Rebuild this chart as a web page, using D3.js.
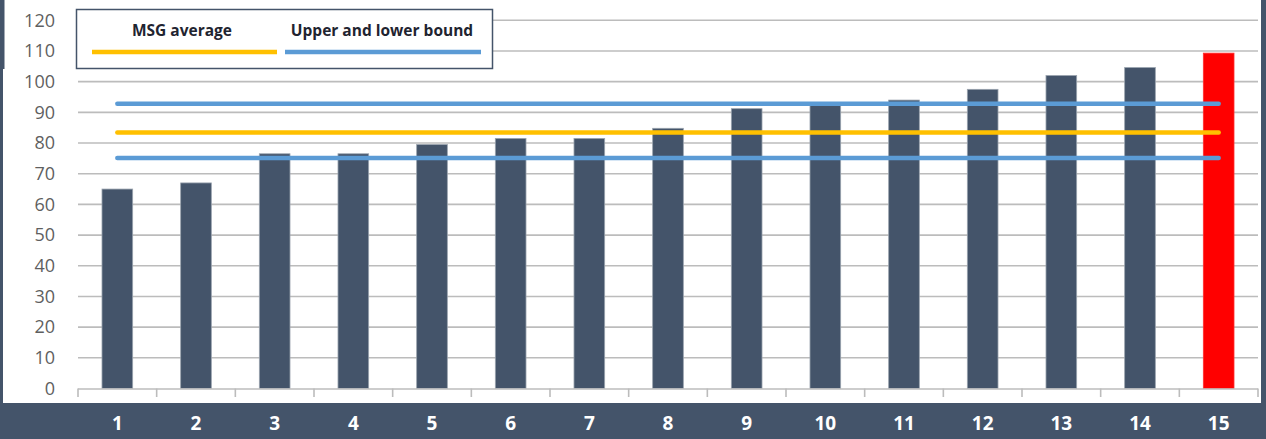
<!DOCTYPE html>
<html>
<head>
<meta charset="utf-8">
<script src="https://cdn.jsdelivr.net/npm/d3@7"></script>
<style>
  html, body { margin: 0; padding: 0; background: #fff; }
  svg { display: block; }
</style>
</head>
<body>
<div id="chart"></div>
<script>
// chart data
const categories = ["1","2","3","4","5","6","7","8","9","10","11","12","13","14","15"]
const values = [65, 67, 76.5, 76.5, 79.5, 81.5, 81.5, 84.8, 91.2, 92.5, 94, 97.5, 102, 104.6, 109.3]
const highlighted = ["15"]
const msgAverage = 83.4
const bounds = [92.8, 75.1]
const yTicks = [0, 10, 20, 30, 40, 50, 60, 70, 80, 90, 100, 110, 120]
const legendLabels = ["MSG average", "Upper and lower bound"]

const w = 1266, h = 439
const frame = "#44546a"
const plot = {left: 78, right: 1258, top: 20.3, bottom: 388.5}

const svg = d3.select('#chart').append('svg')
	.attr('width', w)
	.attr('height', h)

let x = d3.scaleBand()
	.domain(categories)
	.range([plot.left, plot.right])
	.paddingInner(0.61)
	.paddingOuter(0.305)

let y = d3.scaleLinear()
	.domain([0, 120])
	.range([plot.bottom, plot.top])

const step = x.step()
const center = c => x(c) + x.bandwidth() / 2

//gridlines
svg.append('g').selectAll('line')
	.data(yTicks.filter(t => t > 0))
	.join('line')
	.attr('x1', plot.left).attr('x2', plot.right)
	.attr('y1', d => y(d)).attr('y2', d => y(d))
	.attr('stroke', '#bcbcbc')
	.attr('stroke-width', 1.6)

//y labels
let yAxis = svg.append('g')
	.attr('transform', `translate(${plot.left - 23},0)`)
	.call(d3.axisLeft(y).tickValues(yTicks).tickSize(0).tickPadding(0))
yAxis.select('.domain').remove()
yAxis.selectAll('text')
	.attr('font-family', "'Open Sans', 'Liberation Sans', sans-serif")
	.attr('font-size', 18)
	.attr('fill', '#5f5f5f')

//bars
svg.append('g').selectAll('rect')
	.data(categories.map((c, i) => ({cat: c, val: values[i]})))
	.join('rect')
	.attr('x', d => x(d.cat))
	.attr('width', x.bandwidth())
	.attr('y', d => y(d.val))
	.attr('height', d => y(0) - y(d.val))
	.attr('fill', d => highlighted.includes(d.cat) ? '#ff0000' : frame)
	.attr('stroke', d => highlighted.includes(d.cat) ? '#ff3030' : '#9aa3ae')
	.attr('stroke-width', 0.8)

//x axis line + ticks
svg.append('line')
	.attr('x1', plot.left).attr('x2', plot.right)
	.attr('y1', y(0) + 0.5).attr('y2', y(0) + 0.5)
	.attr('stroke', '#bcbcbc').attr('stroke-width', 1.6)
let tickXs = categories.map(c => center(c) - step / 2).concat([plot.right])
svg.append('g').selectAll('line')
	.data(tickXs)
	.join('line')
	.attr('x1', d => d).attr('x2', d => d)
	.attr('y1', y(0)).attr('y2', y(0) + 8.5)
	.attr('stroke', '#bcbcbc').attr('stroke-width', 1.6)

//average + bound lines
const first = categories[0], last = categories[categories.length - 1]
const refLines = [
	{v: bounds[0], color: '#5b9bd5'},
	{v: msgAverage, color: '#ffc000'},
	{v: bounds[1], color: '#5b9bd5'}
]
svg.append('g').selectAll('line')
	.data(refLines)
	.join('line')
	.attr('x1', center(first)).attr('x2', center(last))
	.attr('y1', d => y(d.v)).attr('y2', d => y(d.v))
	.attr('stroke', d => d.color)
	.attr('stroke-width', 4.5)
	.attr('stroke-linecap', 'round')

//frame
svg.append('rect').attr('x', 0).attr('y', 403).attr('width', w).attr('height', h - 403).attr('fill', frame)
svg.append('rect').attr('x', 0).attr('y', 0).attr('width', 3).attr('height', h).attr('fill', frame)
svg.append('rect').attr('x', 0).attr('y', 0).attr('width', 4.5).attr('height', 69).attr('fill', frame)
svg.append('rect').attr('x', 1261).attr('y', 0).attr('width', 5).attr('height', h).attr('fill', frame)

//x labels
svg.append('g').selectAll('text')
	.data(categories)
	.join('text')
	.attr('x', d => center(d))
	.attr('y', 423)
	.attr('dy', '0.35em')
	.attr('text-anchor', 'middle')
	.attr('font-family', "'Open Sans', 'Liberation Sans', sans-serif")
	.attr('font-weight', 'bold')
	.attr('font-size', 19)
	.attr('fill', '#ffffff')
	.text(d => d)

//legend
let legend = svg.append('g')
legend.append('rect')
	.attr('x', 76.5).attr('y', 9.5).attr('width', 416).attr('height', 59)
	.attr('fill', '#fff').attr('stroke', frame).attr('stroke-width', 1.5)
const legendItems = [
	{label: legendLabels[0], color: '#ffc000', x1: 92, x2: 277, tx: 182},
	{label: legendLabels[1], color: '#5b9bd5', x1: 285, x2: 481, tx: 382}
]
legend.selectAll('.lgLine')
	.data(legendItems)
	.join('line')
	.attr('class', 'lgLine')
	.attr('x1', d => d.x1).attr('x2', d => d.x2)
	.attr('y1', 52).attr('y2', 52)
	.attr('stroke', d => d.color)
	.attr('stroke-width', 4.5)
legend.selectAll('.lgText')
	.data(legendItems)
	.join('text')
	.attr('class', 'lgText')
	.attr('x', d => d.tx)
	.attr('y', 31)
	.attr('dy', '0.35em')
	.attr('text-anchor', 'middle')
	.attr('font-family', "'Open Sans', 'Liberation Sans', sans-serif")
	.attr('font-weight', 'bold')
	.attr('font-size', 15.5)
	.attr('fill', '#1f2430')
	.text(d => d.label)
</script>
</body>
</html>
